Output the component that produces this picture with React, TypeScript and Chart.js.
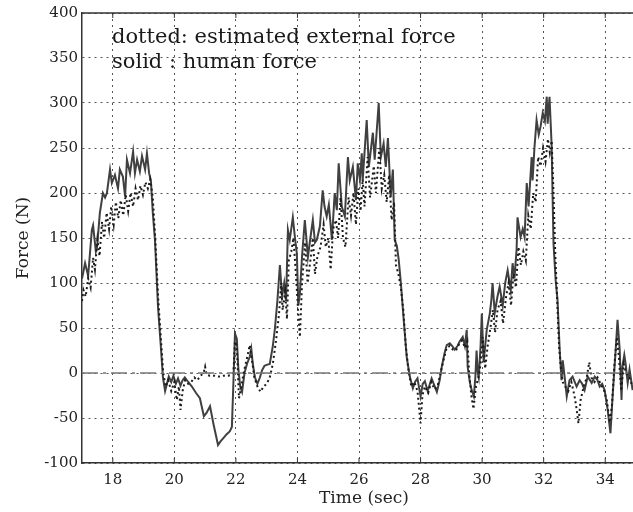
import React, { useEffect, useRef } from "react";
import { Chart, registerables } from "chart.js";
Chart.register(...registerables);

// human force (solid)
const solidTime = [
  17.0, 17.1, 17.2, 17.32, 17.36, 17.45, 17.49, 17.58, 17.68, 17.75, 17.81, 17.91, 17.97, 18.07, 18.17, 18.23, 18.33, 18.4, 18.46, 18.56,
  18.66, 18.72, 18.79, 18.88, 18.95, 19.05, 19.11, 19.18, 19.24, 19.3, 19.37, 19.47, 19.55, 19.63, 19.7, 19.76, 19.82, 19.9, 19.97, 20.05,
  20.12, 20.2, 20.27, 20.34, 20.45, 20.57, 20.7, 20.83, 20.96, 21.05, 21.16, 21.28, 21.42, 21.5, 21.6, 21.7, 21.8, 21.87, 21.92, 21.97,
  22.03, 22.08, 22.14, 22.2, 22.28, 22.36, 22.45, 22.5, 22.55, 22.62, 22.7, 22.78, 22.85, 22.93, 23.0, 23.1, 23.2, 23.27, 23.35, 23.43,
  23.5, 23.57, 23.63, 23.69, 23.75, 23.85, 23.92, 23.98, 24.03, 24.08, 24.15, 24.24, 24.34, 24.42, 24.5, 24.57, 24.63, 24.73, 24.82, 24.88,
  24.95, 25.02, 25.12, 25.21, 25.28, 25.34, 25.44, 25.54, 25.64, 25.7, 25.8, 25.9, 25.96, 26.03, 26.09, 26.12, 26.25, 26.32, 26.45, 26.51,
  26.64, 26.71, 26.8, 26.87, 26.94, 27.03, 27.1, 27.16, 27.23, 27.29, 27.36, 27.45, 27.55, 27.65, 27.75, 27.82, 27.9, 28.0, 28.07, 28.14,
  28.23, 28.36, 28.45, 28.53, 28.62, 28.69, 28.78, 28.85, 28.95, 29.03, 29.11, 29.2, 29.27, 29.37, 29.44, 29.5, 29.53, 29.6, 29.66, 29.73,
  29.78, 29.82, 29.86, 29.89, 29.95, 29.99, 30.05, 30.1, 30.15, 30.25, 30.3, 30.34, 30.41, 30.5, 30.57, 30.67, 30.75, 30.83, 30.93, 30.99,
  31.05, 31.12, 31.15, 31.25, 31.32, 31.38, 31.45, 31.51, 31.61, 31.64, 31.7, 31.77, 31.84, 31.9, 31.97, 32.04, 32.1, 32.13, 32.19, 32.26,
  32.29, 32.32, 32.39, 32.45, 32.52, 32.58, 32.62, 32.7, 32.75, 32.84, 32.94, 33.07, 33.17, 33.25, 33.33, 33.43, 33.56, 33.66, 33.75, 33.82,
  33.9, 33.98, 34.08, 34.17, 34.24, 34.34, 34.4, 34.47, 34.53, 34.56, 34.62, 34.66, 34.73, 34.79, 34.89,
];
const solidForce = [
  105, 122, 108, 159, 164, 135, 140, 178, 200, 195, 200, 226, 211, 220, 205, 226, 218, 196, 237, 222,
  246, 222, 237, 224, 241, 226, 244, 222, 213, 178, 148, 73, 35, -5, -20, -12, -4, -10, -3, -12,
  -6, -14, -8, -5, -10, -15, -22, -28, -48, -44, -37, -58, -80, -76, -72, -68, -65, -60, -10, 44,
  38, 5, -15, -21, 0, 10, 18, 27, 10, -5, -12, -5, 3, 8, 9, 10, 30, 50, 81, 120,
  85, 100, 80, 159, 148, 173, 150, 133, 75, 89, 130, 170, 129, 150, 170, 145, 148, 163, 203, 185,
  174, 187, 148, 200, 181, 233, 185, 174, 240, 214, 229, 192, 233, 215, 244, 214, 281, 229, 267, 237,
  300, 240, 255, 229, 261, 196, 226, 148, 141, 126, 100, 60, 18, -4, -17, -10, -6, -26, -12, -9,
  -20, -6, -14, -21, -8, 7, 22, 31, 33, 30, 26, 30, 35, 40, 30, 48, 7, -10, -19, -26,
  -5, 25, 0, -5, 30, 66, 12, 30, 48, 66, 81, 100, 67, 85, 96, 75, 100, 114, 92, 122,
  105, 137, 173, 151, 160, 151, 211, 185, 240, 214, 250, 281, 265, 274, 289, 280, 307, 277, 307, 252,
  196, 144, 103, 81, 26, -8, 14, -10, -26, -8, -4, -15, -8, -12, -19, -4, -11, -4, -8, -15,
  -12, -19, -41, -67, -26, 26, 59, 26, -30, 7, 20, 11, -11, 4, -19,
];

// estimated external force (dotted)
const dottedTime = [
  17.0, 17.05, 17.12, 17.2, 17.28, 17.36, 17.42, 17.5, 17.57, 17.65, 17.72, 17.8, 17.88, 17.95, 18.03, 18.1, 18.18, 18.26, 18.34, 18.42,
  18.5, 18.58, 18.66, 18.74, 18.82, 18.9, 18.98, 19.06, 19.14, 19.22, 19.3, 19.38, 19.48, 19.56, 19.64, 19.72, 19.8, 19.9, 20.0, 20.08,
  20.15, 20.2, 20.27, 20.35, 20.45, 20.55, 20.65, 20.75, 20.85, 20.95, 21.0, 21.05, 21.15, 21.3, 21.45, 21.6, 21.75, 21.85, 21.92, 21.97,
  22.03, 22.1, 22.15, 22.25, 22.35, 22.45, 22.52, 22.6, 22.7, 22.8, 22.9, 23.0, 23.1, 23.2, 23.3, 23.4, 23.47, 23.52, 23.6, 23.66,
  23.72, 23.8, 23.87, 23.95, 24.02, 24.08, 24.15, 24.25, 24.33, 24.42, 24.5, 24.57, 24.65, 24.75, 24.85, 24.92, 25.0, 25.08, 25.16, 25.25,
  25.32, 25.4, 25.48, 25.56, 25.66, 25.74, 25.82, 25.9, 25.98, 26.05, 26.12, 26.18, 26.28, 26.36, 26.48, 26.55, 26.66, 26.74, 26.82, 26.9,
  26.98, 27.06, 27.14, 27.2, 27.28, 27.36, 27.44, 27.52, 27.6, 27.7, 27.8, 27.9, 28.0, 28.06, 28.14, 28.25, 28.35, 28.45, 28.55, 28.65,
  28.75, 28.85, 28.95, 29.05, 29.15, 29.25, 29.35, 29.45, 29.52, 29.58, 29.65, 29.72, 29.8, 29.88, 29.95, 30.02, 30.1, 30.18, 30.27, 30.35,
  30.42, 30.5, 30.6, 30.68, 30.78, 30.86, 30.94, 31.02, 31.1, 31.18, 31.26, 31.34, 31.42, 31.5, 31.58, 31.66, 31.74, 31.82, 31.9, 31.98,
  32.06, 32.14, 32.2, 32.26, 32.32, 32.38, 32.44, 32.5, 32.56, 32.62, 32.7, 32.8, 32.9, 33.0, 33.07, 33.13, 33.2, 33.3, 33.4, 33.48,
  33.55, 33.65, 33.75, 33.85, 33.95, 34.05, 34.15, 34.22, 34.3, 34.38, 34.45, 34.52, 34.6, 34.68, 34.78, 34.89,
];
const dottedForce = [
  80, 92, 85, 105, 95, 128, 115, 148, 130, 168, 150, 178, 160, 185, 165, 190, 172, 192, 175, 198,
  180, 200, 185, 205, 192, 208, 198, 212, 205, 215, 195, 150, 80, 40, 0, -15, -8, -20, -10, -30,
  -15, -41, -20, -8, -12, -10, -5, -8, -3, 0, 7, -2, -3, -3, -4, -3, -3, -2, 0, 35,
  30, -28, -20, 0, 15, 31, 15, -5, -15, -21, -15, -12, -5, 10, 35, 65, 100, 70, 90, 60,
  125, 135, 150, 110, 70, 40, 100, 145, 100, 125, 150, 110, 130, 140, 165, 140, 150, 115, 160, 170,
  150, 195, 150, 140, 195, 175, 200, 165, 205, 180, 215, 185, 240, 195, 230, 200, 250, 205, 220, 190,
  220, 170, 190, 120, 110, 95, 70, 30, 5, -15, -10, -20, -56, -25, -15, -22, -10, -18, -15, 0,
  15, 28, 30, 26, 25, 32, 36, 28, 35, 0, -25, -40, -15, -5, 10, 40, 5, 30, 50, 70,
  45, 70, 80, 55, 85, 100, 75, 110, 95, 140, 120, 135, 125, 175, 160, 200, 190, 240, 230, 250,
  235, 260, 245, 258, 200, 130, 80, 30, 5, -10, -15, -20, -10, -25, -40, -56, -30, -15, -5, 12,
  -5, -10, -5, -12, -18, -30, -55, -35, 10, 40, 15, -20, 10, 0, -5, -15,
];

const xTicks = [18, 20, 22, 24, 26, 28, 30, 32, 34];
const yTicks = [-100, -50, 0, 50, 100, 150, 200, 250, 300, 350, 400];
const legendLines = ["dotted: estimated external force", "solid : human force"];
const xTitle = "Time (sec)";
const yTitle = "Force (N)";

export default function App() {
  const ref = useRef<HTMLCanvasElement>(null);
  useEffect(() => {
    const canvas = ref.current!;
    const serif = '"DejaVu Serif", "Liberation Serif", serif';
    const textPlugin = {
      id: "texts",
      afterDraw(chart: any) {
        const { ctx, chartArea, scales } = chart;
        ctx.save();
        ctx.strokeStyle = "#333";
        ctx.lineWidth = 1.5;
        ctx.beginPath();
        ctx.moveTo(chartArea.left, chartArea.top);
        ctx.lineTo(chartArea.right, chartArea.top);
        ctx.stroke();
        ctx.lineWidth = 1;
        xTicks.forEach((v) => {
          const x = scales.x.getPixelForValue(v);
          ctx.beginPath();
          ctx.moveTo(x, chartArea.top);
          ctx.lineTo(x, chartArea.top + 5);
          ctx.moveTo(x, chartArea.bottom);
          ctx.lineTo(x, chartArea.bottom - 5);
          ctx.stroke();
        });
        ctx.fillStyle = "#222";
        ctx.font = `15px ${serif}`;
        ctx.textAlign = "right";
        ctx.textBaseline = "middle";
        yTicks.forEach((v) => {
          ctx.fillText(String(v), chartArea.left - 4, scales.y.getPixelForValue(v));
        });
        ctx.textAlign = "center";
        ctx.textBaseline = "middle";
        xTicks.forEach((v) => {
          ctx.fillText(String(v), scales.x.getPixelForValue(v), chartArea.bottom + 17);
        });
        ctx.font = `17px ${serif}`;
        ctx.fillText(xTitle, 364, 499);
        ctx.save();
        ctx.translate(24, 238);
        ctx.rotate(-Math.PI / 2);
        ctx.fillText(yTitle, 0, 0);
        ctx.restore();
        ctx.font = `21px ${serif}`;
        ctx.textAlign = "left";
        ctx.textBaseline = "alphabetic";
        ctx.fillStyle = "#1a1a1a";
        ctx.fillText(legendLines[0], 112, 43);
        ctx.fillText(legendLines[1], 112, 68);
        ctx.restore();
      },
    };
    const chart = new Chart(canvas, {
      type: "line",
      data: {
        datasets: [
          {
            data: [{ x: 17, y: 0 }, { x: 35, y: 0 }],
            borderColor: "#777",
            borderWidth: 1.5,
            borderDash: [16, 5, 3, 5],
            pointRadius: 0,
          },
          {
            data: dottedTime.map((t, i) => ({ x: t, y: dottedForce[i] })),
            borderColor: "#1a1a1a",
            borderWidth: 2,
            borderDash: [2, 3],
            pointRadius: 0,
            tension: 0,
          },
          {
            data: solidTime.map((t, i) => ({ x: t, y: solidForce[i] })),
            borderColor: "#404040",
            borderWidth: 2,
            pointRadius: 0,
            tension: 0,
          },
        ],
      },
      options: {
        animation: false,
        responsive: false,
        maintainAspectRatio: false,
        devicePixelRatio: 1,
        layout: { padding: { top: 13, right: 4, left: 0, bottom: 0 } },
        plugins: { legend: { display: false }, tooltip: { enabled: false } },
        scales: {
          x: {
            type: "linear",
            min: 17,
            max: 35,
            ticks: { display: false },
            afterBuildTicks: (s: any) => {
              s.ticks = xTicks.map((v) => ({ value: v }));
            },
            afterFit: (s: any) => {
              s.height = 49;
            },
            grid: { color: "#555", lineWidth: 1, drawTicks: false },
            border: { display: true, color: "#333", width: 1.5, dash: [2, 4] },
          },
          y: {
            type: "linear",
            min: -100,
            max: 400,
            ticks: { display: false },
            afterBuildTicks: (s: any) => {
              s.ticks = yTicks.map((v) => ({ value: v }));
            },
            afterFit: (s: any) => {
              s.width = 82;
            },
            grid: { color: "#555", lineWidth: 1, drawTicks: false },
            border: { display: true, color: "#333", width: 1.5, dash: [2, 4] },
          },
        },
      },
      plugins: [textPlugin],
    } as any);
    return () => chart.destroy();
  }, []);
  return (
    <div style={{ position: "absolute", left: 0, top: 0, width: 633, height: 512, overflow: "hidden", background: "#fff" }}>
      <canvas ref={ref} width={640} height={512} style={{ display: "block" }} />
    </div>
  );
}
